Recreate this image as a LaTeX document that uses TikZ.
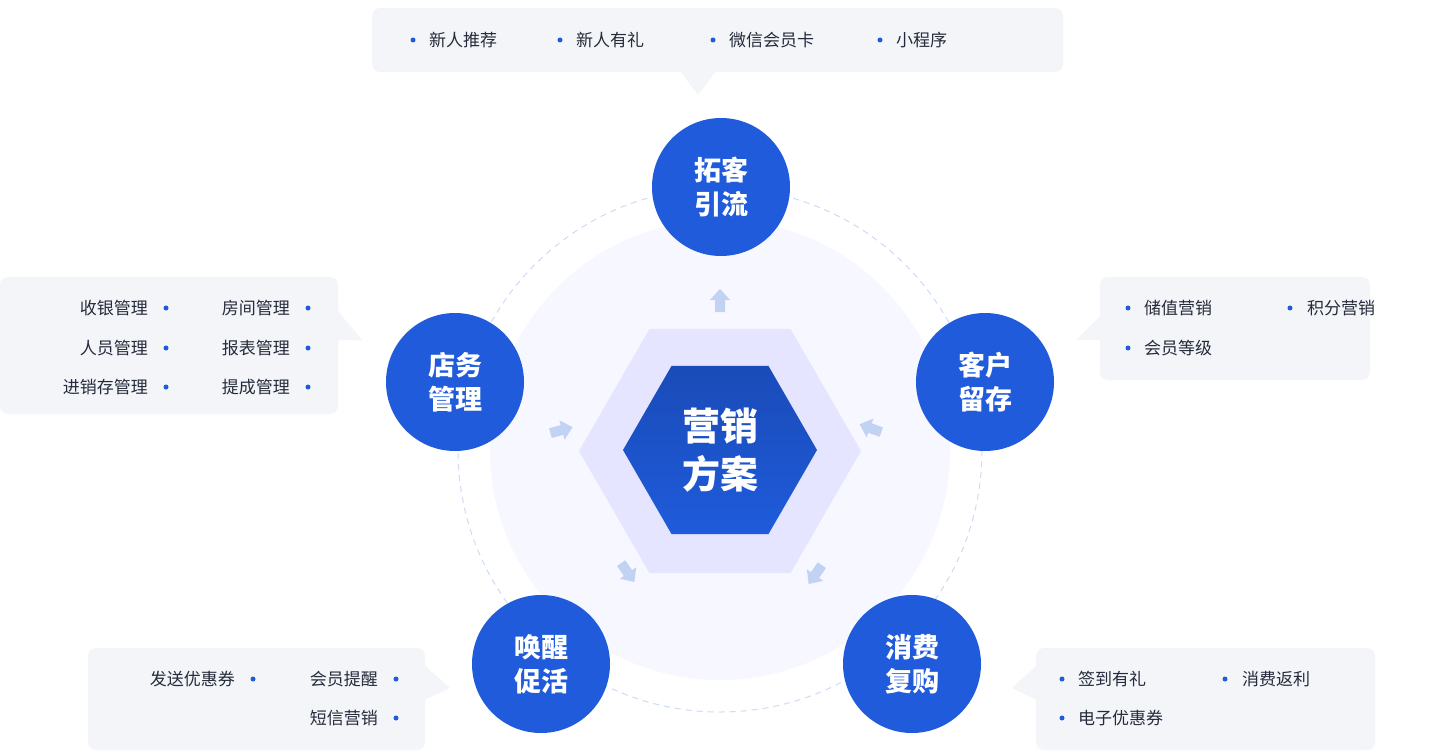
\documentclass[tikz,border=0pt]{standalone}
\usepackage{fontspec}
\setmainfont{Noto Sans CJK SC}
\usetikzlibrary{shapes.geometric}
\definecolor{mblue}{HTML}{1F5BDB}
\definecolor{dblue}{HTML}{1A4BB8}
\definecolor{txt}{HTML}{252B3A}
\definecolor{boxbg}{HTML}{F3F5F9}
\definecolor{pale}{HTML}{B9CCF2}
\tikzset{x=1pt,y=-1pt,
 circ/.style={circle,fill=mblue,minimum size=138pt,inner sep=0pt,text=white,font=\fontsize{27}{34}\selectfont\bfseries,align=center},
 item/.style={font=\fontsize{17}{20}\selectfont,text=txt,inner sep=0pt},
 dot/.style={circle,fill=mblue,minimum size=5pt,inner sep=0pt},
 box/.style={fill=boxbg,rounded corners=8pt},
 arr/.style={fill=pale,opacity=0.85}}
\newcommand{\myarrow}[3]{\begin{scope}[shift={(#1,#2)},rotate=#3]
 \fill[arr] (-5,12)--(-5,0)--(-10,0)--(0,-11)--(10,0)--(5,0)--(5,12)--cycle;\end{scope}}
\begin{document}
\begin{tikzpicture}
\useasboundingbox (0,0) rectangle (1440,752);
\fill[white] (0,0) rectangle (1440,752);
\fill[color=blue!3] (720,450) circle (230);
\draw[pale!70,dashed,line width=1pt,dash pattern=on 6pt off 5pt] (720,450) circle (262);
\node[regular polygon,regular polygon sides=6,minimum size=282pt,fill=blue!10,inner sep=0pt] (hexo) at (720,451) {};
\node[regular polygon,regular polygon sides=6,minimum size=194pt,top color=dblue,bottom color=mblue,inner sep=0pt,text=white,font=\fontsize{38}{48}\selectfont\bfseries,align=center] (hex) at (720,450) {营销\\方案};
\myarrow{720}{300}{0}
\myarrow{562}{430}{-75}
\myarrow{870}{428}{70}
\myarrow{628}{573}{-145}
\myarrow{815}{575}{145}
\node[circ] (c1) at (721,187) {拓客\\引流};
\node[circ] (c2) at (985,382) {客户\\留存};
\node[circ] (c3) at (912,664) {消费\\复购};
\node[circ] (c4) at (541,664) {唤醒\\促活};
\node[circ] (c5) at (455,382) {店务\\管理};
% top box
\fill[box] (372,8) rectangle (1063,72);
\fill[boxbg] (680,71)--(698,95)--(716,71)--cycle;
\foreach \x/\t in {413/新人推荐,560/新人有礼,713/微信会员卡,880/小程序/微商城}{
 \node[dot] at (\x,40) {}; \node[item,anchor=west] at (\x+16,40) {\t};}
% left box
\fill[box] (0,277) rectangle (338,414);
\fill[boxbg] (337,310)--(362,340)--(337,340)--cycle;
\foreach \y/\a/\b in {308/收银管理/房间管理,348/人员管理/报表管理,387/进销存管理/提成管理}{
 \node[item,anchor=east] at (148,\y) {\a}; \node[dot] at (166,\y) {};
 \node[item,anchor=east] at (290,\y) {\b}; \node[dot] at (308,\y) {};}
% right box
\fill[box] (1100,277) rectangle (1370,380);
\fill[boxbg] (1101,315)--(1076,340)--(1101,340)--cycle;
\node[dot] at (1128,308) {}; \node[item,anchor=west] at (1144,308) {储值营销};
\node[dot] at (1290,308) {}; \node[item,anchor=west] at (1307,308) {积分营销};
\node[dot] at (1128,348) {}; \node[item,anchor=west] at (1144,348) {会员等级};
% bottom-left
\fill[box] (88,648) rectangle (425,750);
\fill[boxbg] (424,665)--(450,688)--(424,700)--cycle;
\node[item,anchor=east] at (235,679) {发送优惠券}; \node[dot] at (253,679) {};
\node[item,anchor=east] at (378,679) {会员提醒}; \node[dot] at (396,679) {};
\node[item,anchor=east] at (378,718) {短信营销}; \node[dot] at (396,718) {};
% bottom-right
\fill[box] (1036,648) rectangle (1375,750);
\fill[boxbg] (1037,665)--(1012,688)--(1037,700)--cycle;
\node[dot] at (1062,679) {}; \node[item,anchor=west] at (1078,679) {签到有礼};
\node[dot] at (1225,679) {}; \node[item,anchor=west] at (1242,679) {消费返利};
\node[dot] at (1062,718) {}; \node[item,anchor=west] at (1078,718) {电子优惠券};
\end{tikzpicture}
\end{document}
